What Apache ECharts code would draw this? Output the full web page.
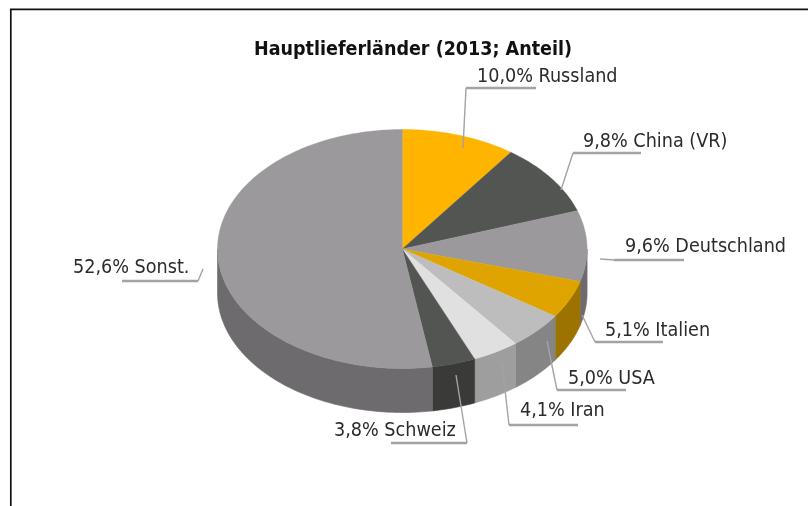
<!DOCTYPE html>
<html>
<head>
<meta charset="utf-8">
<style>html,body{margin:0;padding:0;background:#fff}#c{width:808px;height:506px}</style>
<script src="https://cdn.jsdelivr.net/npm/echarts@6/dist/echarts.min.js"></script>
</head>
<body>
<div id="c"></div>
<script>
var titleText = 'Hauptlieferländer (2013; Anteil)';
var countries = ['Russland','China (VR)','Deutschland','Italien','USA','Iran','Schweiz','Sonst.'];
var shares = [10.0, 9.8, 9.6, 5.1, 5.0, 4.1, 3.8, 52.6];
var labels = ['10,0% Russland','9,8% China (VR)','9,6% Deutschland','5,1% Italien','5,0% USA','4,1% Iran','3,8% Schweiz','52,6% Sonst.'];
var topColors = ['#ffb400','#535552','#9b999c','#dfa400','#bdbdbd','#e0e0e0','#535552','#9b999c'];
var sideColors = ['#a07200','#3a3b39','#6d6b6e','#9c7300','#858585','#9e9e9e','#3a3b39','#6d6b6e'];

// pie geometry
var CX = 402.3, CY = 249, RX = 184.8, RY = 119.5, DEPTH = 44;
// label placement: text left/middle and leader polyline
var labelPos = [[477,77],[583,142],[625,247],[605,331],[568,379],[520,411],[334,431],[73,268]];
var leaders = [
  [[463,148],[466,88],[536,88]],
  [[561,190],[573,153],[641,153]],
  [[601,258],[601,259],[614,260],[684,260]],
  [[582,315],[595,342],[663,342]],
  [[547,341],[557,390],[626,390]],
  [[502,363],[509,425],[578,425]],
  [[456,375],[467,443],[391,443]],
  [[203,269],[198,281],[122,281]]
];

var total = shares.reduce(function(a,b){return a+b;},0);
function pt(t, dy){ return [CX + RX*Math.sin(t), CY - RY*Math.cos(t) + (dy||0)]; }
function arc(a, b, dy){
  var n = Math.max(2, Math.ceil((b-a)/0.02)), out = [];
  for (var i=0;i<=n;i++) out.push(pt(a+(b-a)*i/n, dy));
  return out;
}
function startOf(idx){
  var s=0; for (var i=0;i<idx;i++) s+=shares[i];
  return s/total*Math.PI*2;
}
function renderSlice(params, api){
  var i = params.dataIndex;
  var a = startOf(i), b = a + api.value(0)/total*Math.PI*2;
  var children = [];
  // visible wall: the front half of the ellipse (90..270 degrees)
  var wa = Math.max(a, Math.PI/2), wb = Math.min(b, Math.PI*1.5);
  if (wb > wa) {
    var wall = arc(wa, wb, 0).concat(arc(wa, wb, DEPTH).reverse());
    children.push({type:'polygon', shape:{points:wall},
      style:{fill:sideColors[i], stroke:sideColors[i], lineWidth:0.6}});
  }
  var top = [[CX,CY]].concat(arc(a,b,0));
  children.push({type:'polygon', shape:{points:top},
    style:{fill:topColors[i], stroke:topColors[i], lineWidth:0.4}});
  return {type:'group', children:children};
}
function renderLabel(params, api){
  var i = params.dataIndex, L = leaders[i];
  var n = L.length;
  return {type:'group', children:[
    {type:'polyline', shape:{points:L.slice(0,n-1)}, style:{fill:null, stroke:'#a3a3a3', lineWidth:1.4}},
    {type:'polyline', shape:{points:L.slice(n-2)}, style:{fill:null, stroke:'#a3a3a3', lineWidth:2.4}},
    {type:'text', style:{text:labels[i], x:labelPos[i][0], y:labelPos[i][1], verticalAlign:'middle',
      font:'19.6px "DejaVu Sans Condensed","DejaVu Sans"', fill:'#2b2b2b'}}
  ]};
}
var chart = echarts.init(document.getElementById('c'), null, {renderer:'canvas'});
chart.setOption({
  animation:false,
  backgroundColor:'#fff',
  title:{text:titleText, left:408, top:35, textAlign:'center',
    textStyle:{fontFamily:'"DejaVu Sans Condensed","DejaVu Sans"', fontWeight:'bold', fontSize:19.5, color:'#111'}},
  graphic:[{type:'polyline', silent:true, z:10,
    shape:{points:[[10.8,506],[10.8,9.3],[808,9.3]]},
    style:{fill:null, stroke:'#111', lineWidth:1.7}}],
  series:[
    {type:'custom', name:'Anteil', coordinateSystem:'none', renderItem:renderSlice, silent:true,
      data:shares.map(function(v,i){return {name:countries[i], value:[v]};})},
    {type:'custom', name:'Labels', coordinateSystem:'none', renderItem:renderLabel, silent:true, z:5,
      data:shares.map(function(v,i){return {name:countries[i], value:[v]};})}
  ]
});
</script>
</body>
</html>
